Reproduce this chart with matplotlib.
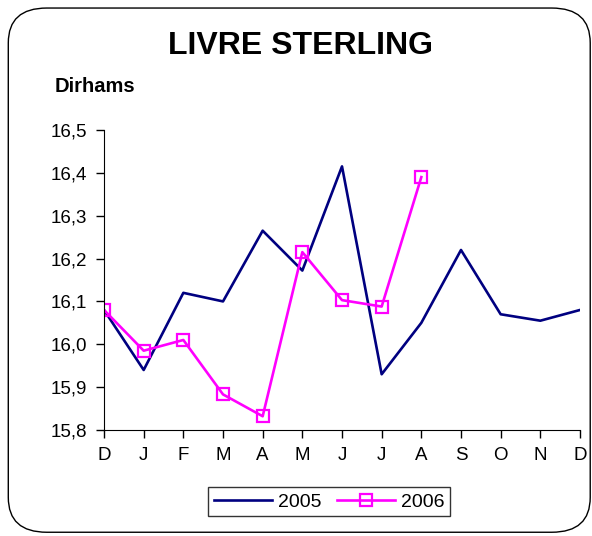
import matplotlib.pyplot as plt
from matplotlib.patches import FancyBboxPatch

plt.rcParams['font.family'] = ['Liberation Sans', 'DejaVu Sans']

months = ['D', 'J', 'F', 'M', 'A', 'M', 'J', 'J', 'A', 'S', 'O', 'N', 'D']
y2005 = [16.08, 15.94, 16.12, 16.10, 16.265, 16.172, 16.415, 15.93, 16.05, 16.22, 16.07, 16.055, 16.08]
y2006 = [16.08, 15.985, 16.01, 15.883, 15.832, 16.215, 16.103, 16.088, 16.39]
yticks = [15.8, 15.9, 16.0, 16.1, 16.2, 16.3, 16.4, 16.5]

fig = plt.figure(figsize=(5.92, 5.36), dpi=100)
fig.patches.append(FancyBboxPatch((0.014, 0.007), 0.983, 0.978, boxstyle='round,pad=0,rounding_size=0.065',
                                  transform=fig.transFigure, fill=False, edgecolor='black', linewidth=1.0))

ax = fig.add_axes([0.1757, 0.1978, 0.804, 0.5597])
x = range(len(months))
ax.plot(x, y2005, color='#000080', linewidth=1.9, label='2005')
ax.plot(range(len(y2006)), y2006, color='#FF00FF', linewidth=1.9, marker='s', markersize=9,
        markerfacecolor='none', markeredgecolor='#FF00FF', markeredgewidth=1.6, label='2006')

ax.set_xlim(0, 12)
ax.set_ylim(15.8, 16.5)
ax.set_xticks(list(x))
ax.set_xticklabels(months, fontsize=13.5)
ax.set_yticks(yticks)
ax.set_yticklabels([f'{v:.1f}'.replace('.', ',') for v in yticks], fontsize=13.5)
ax.tick_params(direction='out', length=6, width=1, pad=6)
for s in ['top', 'right']:
    ax.spines[s].set_visible(False)

fig.text(0.508, 0.915, 'LIVRE STERLING', ha='center', va='center', fontsize=23, fontweight='bold')
fig.text(0.093, 0.838, 'Dirhams', ha='left', va='center', fontsize=14.5, fontweight='bold')

leg = fig.legend(loc='center', bbox_to_anchor=(0.556, 0.064), ncol=2, fontsize=14, frameon=True,
                 fancybox=False, edgecolor='black', handlelength=3.0, columnspacing=0.8,
                 handletextpad=0.3, borderpad=0.3)
leg.get_frame().set_linewidth(1.0)

fig.savefig('out.png', dpi=100)
